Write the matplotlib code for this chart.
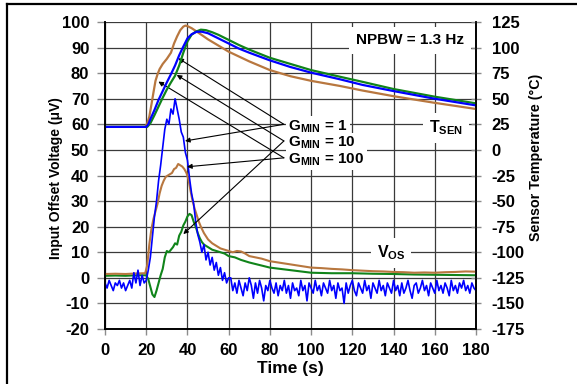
import matplotlib
matplotlib.use('Agg')
import matplotlib.pyplot as plt
from matplotlib.lines import Line2D

plt.rcParams['font.family'] = ['Liberation Sans', 'DejaVu Sans']
plt.rcParams['font.weight'] = 'bold'
plt.rcParams['axes.unicode_minus'] = False
plt.rcParams['mathtext.fontset'] = 'custom'
plt.rcParams['mathtext.rm'] = 'Liberation Sans:bold'
plt.rcParams['mathtext.bf'] = 'Liberation Sans:bold'
plt.rcParams['mathtext.it'] = 'Liberation Sans:bold'

# Input offset voltage, G_MIN = 1 (blue), sampled every second (uV)
vos_g1_time = list(range(0, 181))
vos_g1 = [-2, -4, -1, -3, -5, -2, -3, -1, -4, -2, -5, -3, -1, -4, 2, -2, 3, -3, 1, -2,
          -1, 3, 8, 16, 24, 30, 38, 44, 51, 58,
          62, 60, 66, 64, 70, 66, 62, 57, 55, 49,
          46, 39, 33, 29, 22, 17, 14, 10, 13, 7,
          10, 5, 8, 3, 6, 1, 4, -1, 2, -2,
          0,
          0, -5, -2, -6, -1, -4, -7, -2, -5, 0,
          -3, -8, -2, -6, -1, -4, -9, -3, -5, -1,
          -4, -6, -2, -7, -3, -5, -1, -6, -3, -8,
          -2, -5, -4, -7, -1, -5, -3, -9, -2, -4,
          -6, -1, -5, -3, -7, -2, -4, -6, -1, -5,
          -3, -8, -2, -5, -4, -10, -2, -6, -3, -1,
          -5, -7, -2, -4, -6, -1, -5, -3, -8, -2,
          -4, -6, -1, -5, -3, -7, -2, -4, -6, -1,
          -5, -3, -7, -2, -6, -4, -1, -5, -8, -3,
          -2, -6, -4, -1, -5, -3, -7, -2, -4, -6,
          -1, -5, -3, -6, -2, -4, -7, -1, -5, -3,
          -6, -2, -4, -1, -5, -3, -6, -2, -4, -5]

# Input offset voltage, G_MIN = 10 (green)
vos_g10_time = [0, 5, 10, 15, 20,
                21, 22, 23, 24, 25, 26, 27, 28, 29, 30, 31, 32, 33, 34,
                35, 36, 37, 38, 39, 40, 41, 42, 43, 44, 45, 46, 47, 48,
                50, 52, 54, 56, 58, 60,
                63, 66, 70, 75, 80, 85, 90,
                100, 110, 120, 130, 140, 150, 160, 170, 180]
vos_g10 = [0.8, 0.9, 0.8, 1.0, 1.0,
           -0.5, -3.5, -6.5, -7.5, -5, -2, 1, 3.5, 8, 10.5, 10, 11, 12, 13.5,
           13, 16.5, 18, 20.5, 22, 24, 25, 24.5, 22, 20, 17.5, 15.5, 14, 13,
           12, 11, 10.5, 10, 9.5, 8.5,
           8, 7, 6, 5, 4, 3.5, 3,
           2, 1.8, 1.8, 1.6, 1.5, 1.3, 1.2, 1.1, 1.0]

# Input offset voltage, G_MIN = 100 (brown)
vos_g100_time = [0, 5, 10, 15, 19.5, 20.5, 21.5, 22.5, 23.5, 24.5, 25.5, 26.5, 27.5,
                 28.5, 29.5, 30.5, 31.5, 32.5, 33.5, 34.5, 35.5, 36.5, 37.5, 38.5,
                 39.5, 40.5, 41.5, 42.5, 43.5, 44.5, 45.5, 46.5, 48, 50, 52, 54, 56,
                 58, 60, 62, 64, 66, 68, 70, 73, 76, 80, 84, 88, 92, 96, 100, 105,
                 110, 115, 120, 125, 130, 135, 140, 145, 150, 155, 160, 165, 170,
                 175, 180]
vos_g100 = [1.5, 1.6, 1.5, 1.7, 1.8, 5, 13, 19, 23, 26, 29, 33, 36,
            38, 39.5, 40, 40.5, 41, 42.5, 43, 44.5, 44, 43.5, 42.5,
            41, 38.5, 34, 30, 27, 24.5, 22, 20, 17.5, 15, 13.5, 12.5, 11.5,
            11, 10.5, 10, 10.5, 10.3, 9.5, 8.5, 8, 7.5, 6.5, 6, 5.5, 5, 4.5, 4, 3.8,
            3.5, 3.3, 3, 2.8, 2.6, 2.5, 2.3, 2.2, 2, 2.1, 2, 2.2, 2.3,
            2.5, 2.4]

# Sensor temperature (degC)
tsen_g1_time = [0, 20, 21, 22, 24, 26, 28, 30, 32, 34, 36, 38, 40, 42,
                44.5, 47, 50, 55, 60, 65, 70, 80, 90, 100, 114, 125, 140, 160, 180]
tsen_g1 = [22.5, 22.5, 25, 30, 39, 49, 57.5, 66, 74, 82.5, 92.5, 101, 109, 113,
           115.5, 115.5, 114, 109, 104, 99, 95, 87.5, 81, 75.5, 69, 63.5, 57.5, 50, 43.5]

tsen_g10_time = [0, 20.5, 22, 24, 26, 28, 30, 32, 34, 36, 38, 40, 42, 44,
                 46.5, 49, 52, 55, 60, 65, 70, 80, 90, 100, 114, 125, 140, 160, 180]
tsen_g10 = [22.5, 22.5, 26, 34, 42.5, 51, 59, 66, 72.5, 82.5, 95, 106, 112.5, 115.5,
            117.5, 117, 115, 112.5, 107.5, 102.5, 98, 90, 84, 78, 71.5, 66.5, 59.5, 52, 45.5]

tsen_g100_time = [0, 19.5, 20.5, 21.5, 22.5, 23.5, 24.5, 25.5, 26.5, 28, 30, 32, 33.5, 35,
                  36.5, 38, 39, 40, 42, 45, 50, 55, 60, 70, 80, 90, 100, 114, 125, 140,
                  160, 180]
tsen_g100 = [22.5, 22.5, 26, 32.5, 44, 56, 67.5, 74, 79, 84, 89, 95, 104, 111,
             117, 120.5, 121.5, 121, 119, 115, 108, 102, 96, 86.5, 78, 72, 67.5, 62.5, 58, 52.5,
             46, 40]

x_ticks = list(range(0, 181, 20))
vos_ticks = list(range(-20, 101, 10))
temp_ticks = list(range(-175, 126, 25))

blue = '#0000ff'
green = '#10841a'
brown = '#b8773f'
tick_grey = '#8c8c8c'

fig = plt.figure(figsize=(5.77, 3.84), dpi=100)
ax = fig.add_axes([105 / 577, 1 - 329 / 384, 371 / 577, 307 / 384])
ax2 = ax.twinx()

# offset voltage curves
ax.plot(vos_g10_time, vos_g10, color=green, lw=1.5, zorder=3)
ax.plot(vos_g100_time, vos_g100, color=brown, lw=1.5, zorder=3)
ax.plot(vos_g1_time, vos_g1, color=blue, lw=1.2, zorder=4)

# temperature curves
ax2.plot(tsen_g100_time, tsen_g100, color=brown, lw=1.6)
ax2.plot(tsen_g10_time, tsen_g10, color=green, lw=1.6)
ax2.plot(tsen_g1_time, tsen_g1, color=blue, lw=1.6)

ax.set_xlim(0, 180)
ax.set_ylim(-20, 100)
ax2.set_ylim(-175, 125)
ax.set_xticks(x_ticks)
ax.set_yticks(vos_ticks)
ax2.set_yticks(temp_ticks)

ax.grid(True, color='#3a3a3a', lw=0.9, zorder=0)
ax.set_axisbelow(True)

for a in (ax, ax2):
    a.spines['top'].set_visible(False)
    for s in ('left', 'right', 'bottom'):
        a.spines[s].set_linewidth(1.2)
        a.spines[s].set_color('black')

ax.tick_params(axis='y', direction='out', length=6, width=1, color=tick_grey,
               pad=5.3, labelsize=12)
ax.tick_params(axis='x', direction='out', length=4, width=1, color=tick_grey,
               pad=6, labelsize=12)
ax2.tick_params(axis='y', direction='inout', length=7, width=1, color=tick_grey,
                pad=7.8, labelsize=12)

# annotations
box = dict(boxstyle='square,pad=0.15', fc='white', ec='none')
ax.text(148, 92.8, 'NPBW = 1.3 Hz', fontsize=11, ha='center', va='center',
        bbox=dict(boxstyle='square,pad=0.45', fc='white', ec='none'), zorder=5)
ax.text(165.4, 58.6, r'$\mathrm{T_{SEN}}$', fontsize=11.5, ha='center', va='center',
        bbox=dict(boxstyle='square,pad=0.35', fc='white', ec='none'), zorder=5)
ax.text(138.8, 9.8, r'$\mathrm{V_{OS}}$', fontsize=11.5, ha='center', va='center',
        bbox=dict(boxstyle='square,pad=0.35', fc='white', ec='none'), zorder=5)

labels = [r'$\mathrm{G_{MIN}}$ = 1', r'$\mathrm{G_{MIN}}$ = 10', r'$\mathrm{G_{MIN}}$ = 100']
label_y = [59.1, 52.6, 46.1]
tail_y = [60.0, 53.5, 46.9]
tsen_tips = [(35.6, 85.8), (34.8, 79.3), (25.9, 76.7)]
vos_tips = [(38.8, 53.5), (38.0, 17.1), (39.8, 43.4)]
for lab, ly in zip(labels, label_y):
    ax.text(88.9, ly, lab, fontsize=11, ha='left', va='center', bbox=box, zorder=5)
arrow = dict(arrowstyle='-|>', color='black', lw=0.8, mutation_scale=7,
             shrinkA=0, shrinkB=0)
for ty, tip1, tip2 in zip(tail_y, tsen_tips, vos_tips):
    ax.annotate('', xy=tip1, xytext=(86.8, ty), arrowprops=arrow, zorder=6)
    ax.annotate('', xy=tip2, xytext=(86.8, ty), arrowprops=arrow, zorder=6)

fig.text(290.5 / 577, 1 - 369 / 384, 'Time (s)', ha='center', va='center',
         fontsize=12.5, fontweight='bold')
fig.text(56 / 577, 1 - 178 / 384, 'Input Offset Voltage (\u03bcV)', rotation=90,
         ha='center', va='center', fontsize=10, fontweight='bold')
fig.text(536 / 577, 1 - 157 / 384, 'Sensor Temperature (\u00b0C)', rotation=90,
         ha='center', va='center', fontsize=10.3, fontweight='bold')

# outer frame (left and top edges)
fig.add_artist(Line2D([7 / 577, 7 / 577], [0, 1 - 4 / 384], color='black', lw=1.6,
                      transform=fig.transFigure))
fig.add_artist(Line2D([7 / 577, 1], [1 - 4 / 384, 1 - 4 / 384], color='black', lw=1.6,
                      transform=fig.transFigure))

fig.savefig('out.png', dpi=100)
